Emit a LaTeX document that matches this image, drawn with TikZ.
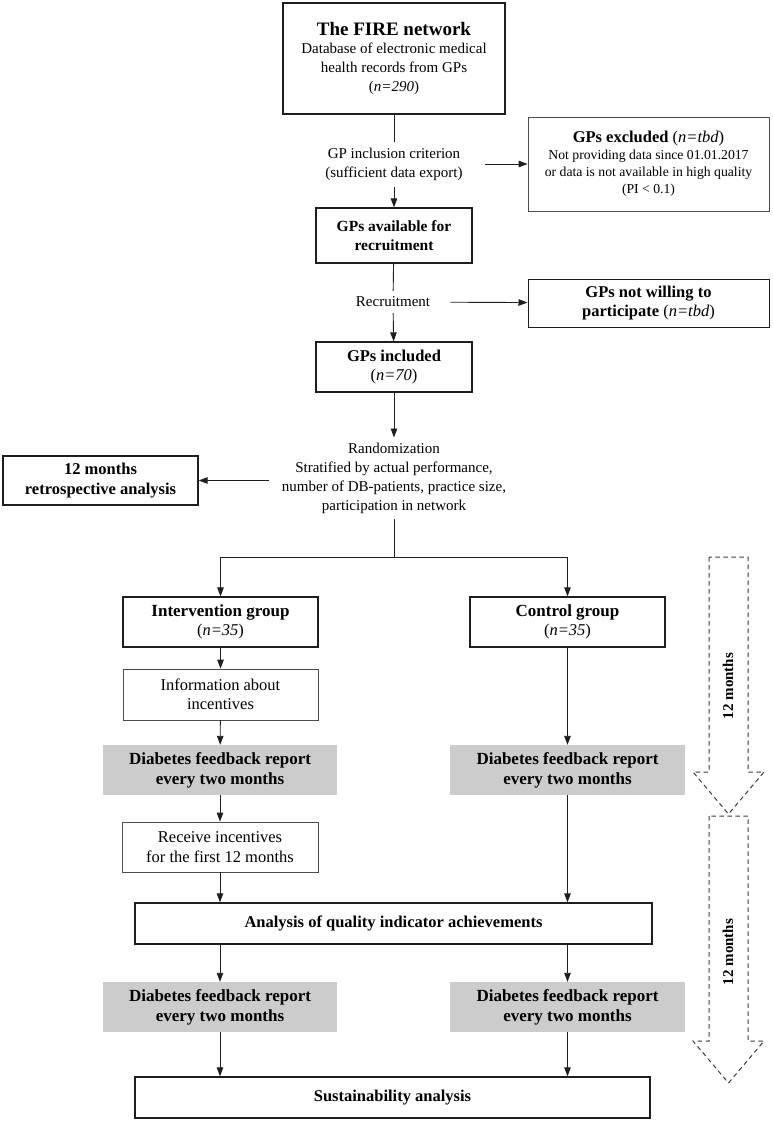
\documentclass[tikz,border=0pt]{standalone}
\usepackage{fontspec}
\setmainfont{Liberation Serif}
\usetikzlibrary{arrows.meta}
\definecolor{boxgray}{RGB}{204,204,204}
\definecolor{linegray}{RGB}{30,30,30}
\definecolor{dashgray}{RGB}{60,60,60}
\tikzset{
  base/.style={font=\fontsize{15}{19}\selectfont, align=center, inner sep=0pt},
  boxfont/.style={font=\fontsize{16.5}{19.5}\selectfont},
  boxbold/.style={font=\fontsize{16.5}{19.5}\selectfont\bfseries},
  thickbox/.style={base, boxfont, draw=linegray, line width=1.3pt, rectangle},
  thinbox/.style={base, boxfont, draw=linegray!80, line width=0.8pt, rectangle},
  graybox/.style={base, fill=boxgray, rectangle, font=\fontsize{17}{20}\selectfont\bfseries},
  lbl/.style={base, inner xsep=12pt, inner ysep=6pt},
  arr/.style={-{Triangle[length=9pt,width=6.5pt]}, line width=0.9pt, draw=linegray},
  ln/.style={line width=0.9pt, draw=linegray},
  dasharrow/.style={draw=dashgray, line width=1pt, dash pattern=on 4.5pt off 3.5pt},
}
\begin{document}
\begin{tikzpicture}[x=1pt,y=-1pt]
\useasboundingbox (0,0) rectangle (773,1122);

% boxes
\node[thickbox, base, minimum width=222pt, minimum height=111pt] (top) at (394,58.5)
  {{\fontsize{19}{22}\selectfont\bfseries The FIRE network}\\[-1pt]
   Database of electronic medical\\ health records from GPs\\ (\textit{n=290})};
\node[lbl, inner xsep=22pt] (incl) at (394,164) {GP inclusion criterion\\ (sufficient data export)};
\node[thinbox, minimum width=241pt, minimum height=94pt,
      font=\fontsize{13.7}{17}\selectfont] (excl) at (648.5,164)
  {{\fontsize{16.5}{18}\selectfont\textbf{GPs excluded} (\textit{n=tbd})}\\
   Not providing data since 01.01.2017\\
   or data is not available in high quality\\ (PI {<} 0.1)};
\node[thickbox, minimum width=156pt, minimum height=55pt, font=\fontsize{15.5}{19}\selectfont\bfseries]
  (avail) at (394,235.5) {GPs available for\\ recruitment};
\node[lbl, inner xsep=20pt] (recr) at (393,302) {Recruitment};
\node[thickbox, line width=1pt, minimum width=241pt, minimum height=48pt]
  (notw) at (648.5,303) {\textbf{GPs not willing to}\\ \textbf{participate} (\textit{n=tbd})};
\node[thickbox, minimum width=156pt, minimum height=50pt]
  (incd) at (394,367) {\textbf{GPs included}\\ (\textit{n=70})};
\node[lbl, inner xsep=13pt, inner ysep=5pt] (rand) at (394,478)
  {Randomization\\ Stratified by actual performance,\\ number of DB-patients, practice size,\\ participation in network};
\node[thickbox, boxbold, minimum width=195pt, minimum height=49pt]
  (retro) at (100.5,480.5) {12 months\\ retrospective analysis};
\coordinate (split) at (394,557);
\node[thickbox, minimum width=195pt, minimum height=50pt]
  (interv) at (220.5,622) {{\fontsize{17}{19.5}\selectfont\bfseries Intervention group}\\ (\textit{n=35})};
\node[thickbox, minimum width=195pt, minimum height=50pt]
  (ctrl) at (567.5,622) {{\fontsize{17}{19.5}\selectfont\bfseries Control group}\\ (\textit{n=35})};
\node[thinbox, minimum width=195pt, minimum height=51pt]
  (info) at (220.5,694.5) {Information about\\ incentives};
\node[graybox, minimum width=234pt, minimum height=50pt]
  (grayL) at (220,770) {Diabetes feedback report\\ every two months};
\node[graybox, minimum width=235pt, minimum height=50pt]
  (grayR) at (567.5,770) {Diabetes feedback report\\ every two months};
\node[thinbox, minimum width=196pt, minimum height=50pt]
  (recv) at (220,847) {Receive incentives\\ for the first 12 months};
\node[thickbox, boxbold, minimum width=517pt, minimum height=41pt]
  (anal) at (393.5,923.5) {Analysis of quality indicator achievements};
\node[graybox, minimum width=234pt, minimum height=50pt]
  (grayL2) at (220,1007) {Diabetes feedback report\\ every two months};
\node[graybox, minimum width=235pt, minimum height=50pt]
  (grayR2) at (567.5,1007) {Diabetes feedback report\\ every two months};
\node[thickbox, boxbold, minimum width=515pt, minimum height=41pt]
  (sust) at (392.5,1097.5) {Sustainability analysis};

% connectors
\draw[ln] (top) -- (incl);
\draw[arr] (incl) -- (avail);
\draw[arr] (incl) -- (excl);
\draw[ln] (avail) -- (recr);
\draw[arr] (recr) -- (incd);
\draw[arr] (recr) -- (notw);
\draw[arr] (incd) -- (rand);
\draw[arr] (rand.west |- retro) -- (retro);
\draw[ln] (rand) -- (split);
\draw[arr] (split) -| (interv);
\draw[arr] (split) -| (ctrl);
\draw[arr] (interv) -- (info);
\draw[arr] (info) -- (grayL);
\draw[arr] (grayL) -- (recv);
\draw[arr] (recv) -- (recv |- anal.north);
\draw[arr] (ctrl) -- (grayR);
\draw[arr] (grayR) -- (grayR |- anal.north);
\draw[arr] (anal.south -| grayL2) -- (grayL2);
\draw[arr] (anal.south -| grayR2) -- (grayR2);
\draw[arr] (grayL2) -- (grayL2 |- sust.north);
\draw[arr] (grayR2) -- (grayR2 |- sust.north);

% dashed time arrows
\draw[dasharrow] (709,557) -- (709,772) -- (693,772) -- (728.5,814) -- (764,772) -- (748,772) -- (748,557) -- cycle;
\draw[dasharrow] (709,816) -- (709,1041) -- (693,1041) -- (728.5,1083) -- (764,1041) -- (748,1041) -- (748,816) -- cycle;
\node[base, rotate=90, font=\fontsize{15}{19}\selectfont\bfseries] (t1) at (728,686) {12 months};
\node[base, rotate=90, font=\fontsize{15}{19}\selectfont\bfseries] (t2) at (728,952) {12 months};
\end{tikzpicture}
\end{document}
